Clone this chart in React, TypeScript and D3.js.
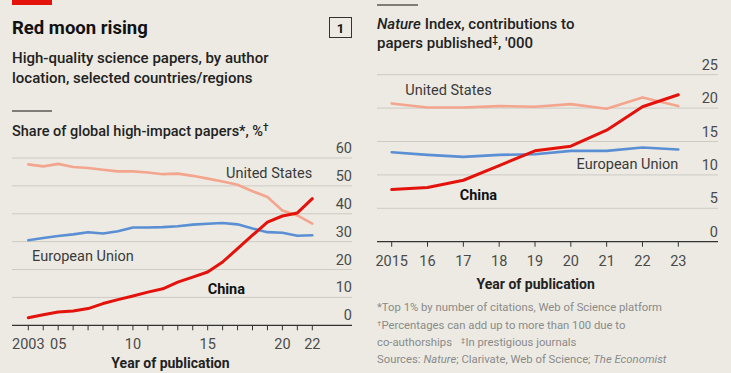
import React from 'react';
import * as d3 from 'd3';

// left panel: share of global high-impact papers, %
const yearsShare = d3.range(2003, 2023);
const usShare = [57.7, 57.0, 57.9, 56.8, 56.4, 55.8, 55.2, 55.2, 54.8, 54.2, 54.4, 53.6, 52.6, 51.6, 50.4, 48.1, 46.0, 41.2, 39.4, 36.5];
const euShare = [30.5, 31.3, 32.0, 32.6, 33.4, 32.9, 33.7, 35.1, 35.1, 35.2, 35.5, 36.1, 36.4, 36.7, 36.2, 34.7, 33.4, 33.2, 32.1, 32.3];
const chinaShare = [2.7, 3.8, 4.8, 5.1, 6.0, 7.8, 9.2, 10.5, 11.9, 13.1, 15.5, 17.3, 19.1, 22.7, 27.5, 32.3, 37.0, 39.2, 40.3, 45.4];
const shareTicks = [0, 10, 20, 30, 40, 50, 60];
const shareYearLabels: [number, string][] = [[2003, '2003'], [2005, '05'], [2010, '10'], [2015, '15'], [2020, '20'], [2022, '22']];

// right panel: Nature Index contributions, '000
const yearsNature = d3.range(2015, 2024);
const usNature = [20.7, 20.1, 20.1, 20.3, 20.2, 20.6, 19.9, 21.6, 20.3];
const euNature = [13.4, 13.0, 12.7, 13.0, 13.1, 13.6, 13.6, 14.1, 13.8];
const chinaNature = [7.8, 8.1, 9.2, 11.4, 13.6, 14.3, 16.7, 20.2, 22.0];
const natureTicks = [0, 5, 10, 15, 20, 25];
const natureYearLabels: [number, string][] = [[2015, '2015'], [2016, '16'], [2017, '17'], [2018, '18'], [2019, '19'], [2020, '20'], [2021, '21'], [2022, '22'], [2023, '23']];

const BG = '#eceae3';
const RED = '#e3120b';
const US = '#f4a58e';
const EU = '#5b8fd3';
const GRID = '#cdcbc3';
const FONT = 'Roboto, "Liberation Sans", sans-serif';

type Pt = [number, number];

const Panel = ({
  x, y, xLeft, xRight, years, series, ticks, yearLabels,
}: {
  x: d3.ScaleLinear<number, number>;
  y: d3.ScaleLinear<number, number>;
  xLeft: number;
  xRight: number;
  years: number[];
  series: { values: number[]; color: string; width: number }[];
  ticks: number[];
  yearLabels: [number, string][];
}) => {
  const line = d3.line<Pt>().x((d) => x(d[0])).y((d) => y(d[1]));
  const base = y(0);
  return (
    <g>
      {ticks.map((t) => (
        <g key={t}>
          {t > 0 && <line x1={xLeft} x2={xRight} y1={y(t)} y2={y(t)} stroke={GRID} strokeWidth={1} />}
          <text x={xRight} y={y(t) - 5} textAnchor="end" fontSize={14.5} fill="#4a4a4a">{t}</text>
        </g>
      ))}
      {series.map((s, i) => (
        <path
          key={i}
          d={line(years.map((yr, j) => [yr, s.values[j]] as Pt)) || ''}
          fill="none"
          stroke={s.color}
          strokeWidth={s.width}
          strokeLinejoin="round"
          strokeLinecap="round"
        />
      ))}
      <line x1={xLeft} x2={xRight} y1={base} y2={base} stroke="#333" strokeWidth={1.2} />
      {years.map((yr) => (
        <line key={yr} x1={x(yr)} x2={x(yr)} y1={base} y2={base + 5} stroke="#333" strokeWidth={1} />
      ))}
      {yearLabels.map(([yr, lab]) => (
        <text key={yr} x={x(yr)} y={base + 24} textAnchor="middle" fontSize={14.5} fill="#4a4a4a">{lab}</text>
      ))}
    </g>
  );
};

const App = () => {
  const xL = d3.scaleLinear().domain([2003, 2022]).range([28.3, 312.3]);
  const yL = d3.scaleLinear().domain([0, 60]).range([325.3, 158]);
  const xR = d3.scaleLinear().domain([2015, 2023]).range([391.7, 678.3]);
  const yR = d3.scaleLinear().domain([0, 25]).range([241.7, 74.7]);

  return (
    <svg
      width={731}
      height={373}
      style={{ position: 'absolute', left: 0, top: 0, background: BG, fontFamily: FONT }}
    >
      <rect x={0} y={0} width={731} height={373} fill={BG} />

      {/* left header */}
      <rect x={12} y={0} width={40} height={5} fill={RED} />
      <text x={12} y={34} fontSize={18.5} fontWeight={700} fill="#111">Red moon rising</text>
      <rect x={329.5} y={17.5} width={22} height={20} fill="none" stroke="#333" strokeWidth={1} />
      <text x={340.5} y={32.5} fontSize={13} fontWeight={700} textAnchor="middle" fill="#111">1</text>
      <text x={12} y={63} fontSize={15} fontWeight={500} fill="#222">High-quality science papers, by author</text>
      <text x={12} y={83} fontSize={15} fontWeight={500} fill="#222">location, selected countries/regions</text>
      <line x1={12} x2={52} y1={111} y2={111} stroke="#111" strokeWidth={1} />
      <text x={12} y={136} fontSize={14.5} fontWeight={500} fill="#222">
        Share of global high-impact papers*, %<tspan fontSize={10} dy={-5}>†</tspan>
      </text>

      <Panel
        x={xL}
        y={yL}
        xLeft={12}
        xRight={352}
        years={yearsShare}
        series={[
          { values: usShare, color: US, width: 2.6 },
          { values: euShare, color: EU, width: 2.6 },
          { values: chinaShare, color: RED, width: 3 },
        ]}
        ticks={shareTicks}
        yearLabels={shareYearLabels}
      />
      <text x={xL(2022)} y={yL(54.6) + 5} textAnchor="end" fontSize={14.5} fill="#3a3a3a">United States</text>
      <text x={xL(2003.25)} y={yL(24.7) + 5} fontSize={14.5} fill="#3a3a3a">European Union</text>
      <text x={xL(2015.0)} y={yL(12.9) + 5} fontSize={14.5} fontWeight={700} fill="#111">China</text>
      <text x={170.5} y={368} textAnchor="middle" fontSize={14} fontWeight={700} fill="#222">Year of publication</text>

      {/* right header */}
      <line x1={377} x2={418} y1={5} y2={5} stroke="#111" strokeWidth={1} />
      <text x={377} y={29} fontSize={15} fontWeight={500} fill="#222">
        <tspan fontStyle="italic">Nature</tspan> Index, contributions to
      </text>
      <text x={377} y={48} fontSize={15} fontWeight={500} fill="#222">
        papers published<tspan fontSize={10} dy={-5}>‡</tspan><tspan dy={5}>, '000</tspan>
      </text>

      <Panel
        x={xR}
        y={yR}
        xLeft={377}
        xRight={718}
        years={yearsNature}
        series={[
          { values: usNature, color: US, width: 2.6 },
          { values: euNature, color: EU, width: 2.6 },
          { values: chinaNature, color: RED, width: 3 },
        ]}
        ticks={natureTicks}
        yearLabels={natureYearLabels}
      />
      <text x={xR(2015.38)} y={yR(22.7) + 5} fontSize={14.5} fill="#3a3a3a">United States</text>
      <text x={xR(2023)} y={yR(11.7) + 5} textAnchor="end" fontSize={14.5} fill="#3a3a3a">European Union</text>
      <text x={xR(2016.9)} y={yR(7) + 5} fontSize={14.5} fontWeight={700} fill="#111">China</text>
      <text x={535.7} y={289} textAnchor="middle" fontSize={14} fontWeight={700} fill="#222">Year of publication</text>

      {/* footnotes */}
      <g fontSize={11.3} fill="#8a8a8a">
        <text x={377} y={310.5}>*Top 1% by number of citations, Web of Science platform</text>
        <text x={377} y={328.5}><tspan fontSize={8} dy={-3}>†</tspan><tspan dy={3}>Percentages can add up to more than 100 due to</tspan></text>
        <text x={377} y={346}>co-authorships <tspan dx={6} fontSize={8} dy={-3}>‡</tspan><tspan dy={3}>In prestigious journals</tspan></text>
        <text x={377} y={363}>Sources: <tspan fontStyle="italic">Nature</tspan>; Clarivate, Web of Science; <tspan fontStyle="italic">The Economist</tspan></text>
      </g>
    </svg>
  );
};

export default App;
